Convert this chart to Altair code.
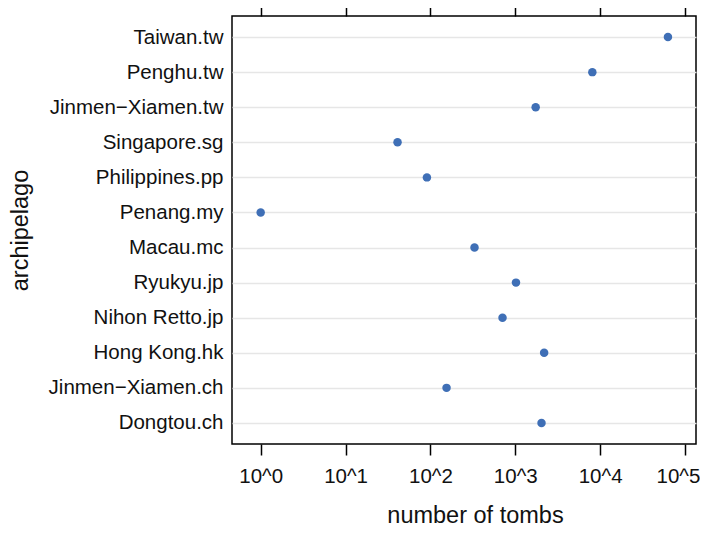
import altair as alt
import pandas as pd

archipelagos = [
    "Taiwan.tw", "Penghu.tw", "Jinmen\u2212Xiamen.tw", "Singapore.sg",
    "Philippines.pp", "Penang.my", "Macau.mc", "Ryukyu.jp",
    "Nihon Retto.jp", "Hong Kong.hk", "Jinmen\u2212Xiamen.ch", "Dongtou.ch",
]
tombs = [63000, 8100, 1740, 41, 91, 1, 331, 1020, 708, 2190, 155, 2040]
tick_values = [1, 10, 100, 1000, 10000, 100000]

df = pd.DataFrame({"archipelago": archipelagos, "tombs": tombs})

FONT = "Liberation Sans"
xdomain = [10 ** -0.338, 10 ** 5.13]

xscale = alt.Scale(type="log", domain=xdomain, nice=False)
yscale = alt.Scale(type="point", padding=0.6)

yaxis = alt.Axis(grid=True, gridColor="#e6e6e6", gridWidth=1.6,
                 ticks=False, domain=False, labelPadding=9,
                 labelFontSize=20.5, labelFont=FONT, labelColor="#111111",
                 labelBaseline="middle",
                 titleFont=FONT, titleFontSize=23.5, titleFontWeight="normal",
                 titleColor="#111111", titleAngle=-90, titleX=-212, titleY=214,
                 titleAlign="center", titleBaseline="middle")

points = alt.Chart(df).mark_circle(size=72, color="#3f6fb6", opacity=1).encode(
    x=alt.X("tombs:Q", scale=xscale, title="number of tombs",
            axis=alt.Axis(values=tick_values, orient="bottom",
                          labelExpr="'10^' + round(log(datum.value)/LN10)",
                          labelOffset={"condition": {"test": "datum.value >= 100000", "value": -7},
                                       "value": 0},
                          grid=False, domain=False, tickSize=11, tickWidth=1.5,
                          tickColor="black", labelPadding=27,
                          labelBaseline="alphabetic", labelFontSize=20.5,
                          labelFont=FONT, labelColor="#111111",
                          titleFont=FONT, titleFontSize=23.5, titleFontWeight="normal",
                          titleColor="#111111", titleX=243, titleY=78,
                          titleBaseline="alphabetic", titleAlign="center")),
    y=alt.Y("archipelago:N", sort=archipelagos, scale=yscale, title="archipelago",
            axis=yaxis),
)

top = alt.Chart(df).mark_circle(opacity=0).encode(
    x=alt.X("tombs:Q", scale=xscale, title=None,
            axis=alt.Axis(values=tick_values, orient="top", labels=False,
                          grid=False, domain=False, tickSize=12, tickWidth=1.5,
                          tickColor="black")),
    y=alt.Y("archipelago:N", sort=archipelagos, scale=yscale, title="archipelago",
            axis=yaxis),
)

chart = alt.layer(points, top).resolve_axis(x="independent").properties(
    width=464, height=428,
    padding={"left": 224, "top": 8, "right": 4, "bottom": 82},
    autosize=alt.AutoSizeParams(type="none"),
    view=alt.ViewBackground(stroke="#000000", strokeWidth=1.5),
).configure_view(stroke="#000000", strokeWidth=1.5)

chart.save("out.html", embed_options={"renderer": "svg", "actions": False})
